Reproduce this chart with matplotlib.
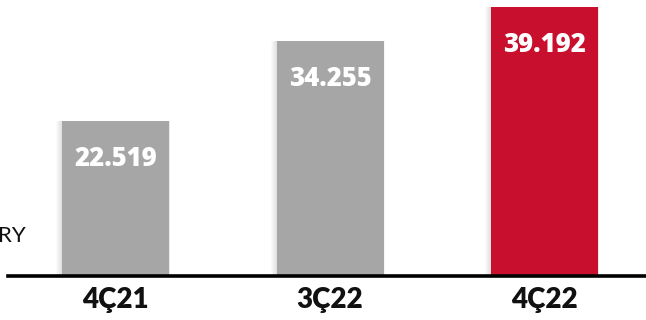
import matplotlib
matplotlib.use("Agg")
import matplotlib.pyplot as plt
from matplotlib.patches import Rectangle

categories = ["4Ç21", "3Ç22", "4Ç22"]
values = [22.519, 34.255, 39.192]
value_labels = ["22.519", "34.255", "39.192"]
bar_colors = ["#A6A6A6", "#A6A6A6", "#C8102E"]
unit_label = "RY"

W, H, DPI = 646, 320, 100
fig = plt.figure(figsize=(W / DPI, H / DPI), dpi=DPI)
fig.patch.set_facecolor("white")

# axes: bottom edge sits on the baseline, top at the figure edge
base_px = 275.5
ax = fig.add_axes([0, (H - base_px) / H, 1, base_px / H])
ymax = values[2] * base_px / 268.5
ax.set_ylim(0, ymax)
step = 214.5
x0 = 115.5
ax.set_xlim(-x0 / step, (W - x0) / step)
ax.axis("off")

xs = list(range(len(categories)))
bw = 107 / step

# soft shadow around the bars
for x, v in zip(xs, values):
    for i in range(1, 7):
        d = i * 1.0 / step
        ax.add_patch(Rectangle((x - bw / 2 - d, 0), bw + 2 * d * 0.6, v - 0.02,
                               facecolor="black", alpha=0.018, lw=0, zorder=1))

ax.bar(xs, values, width=bw, color=bar_colors, zorder=3, linewidth=0)

for x, v, t in zip(xs, values, value_labels):
    ax.text(x, v - 38 / (base_px / ymax), t, ha="center", va="center",
            color="white", fontsize=18.5, fontweight="heavy", family="Open Sans",
            zorder=4)

# baseline
fig.add_artist(plt.Line2D([8 / W, 1], [(H - base_px) / H] * 2, color="black",
                          lw=2.6, transform=fig.transFigure, zorder=5))

for x, c in zip(xs, categories):
    fig.text((x0 + x * step) / W, (H - 300) / H, c, ha="center", va="center",
             fontsize=20, fontweight="heavy", family="Lato", color="#111111")

fig.text(-2 / W, (H - 236) / H, unit_label, ha="left", va="center",
         fontsize=16, family="Lato", color="#111111")

fig.savefig("out.png", dpi=DPI, facecolor="white")
